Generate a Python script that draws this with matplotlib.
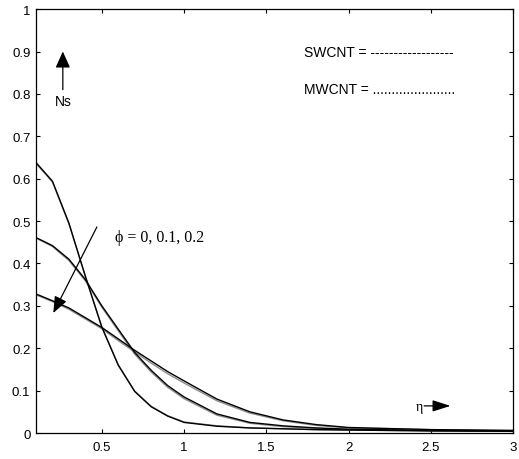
import matplotlib.pyplot as plt

# eta grid and Ns values
eta = [0.1, 0.2, 0.3, 0.4, 0.5, 0.6, 0.7, 0.8, 0.9, 1.0, 1.2, 1.4, 1.6, 1.8, 2.0, 2.5, 3.0]

sw_phi0 = [0.638, 0.594, 0.495, 0.370, 0.250, 0.160, 0.098, 0.062, 0.040, 0.025,
           0.016, 0.012, 0.010, 0.008, 0.007, 0.005, 0.004]
sw_phi1 = [0.461, 0.442, 0.410, 0.362, 0.300, 0.245, 0.190, 0.148, 0.112, 0.085,
           0.045, 0.025, 0.017, 0.012, 0.009, 0.006, 0.005]
sw_phi2 = [0.328, 0.312, 0.295, 0.272, 0.249, 0.222, 0.195, 0.170, 0.145, 0.123,
           0.080, 0.050, 0.031, 0.020, 0.013, 0.008, 0.006]

mw_phi0 = [0.636, 0.592, 0.494, 0.369, 0.250, 0.161, 0.099, 0.063, 0.041, 0.026,
           0.017, 0.012, 0.010, 0.008, 0.007, 0.005, 0.004]
mw_phi1 = [0.460, 0.440, 0.407, 0.359, 0.297, 0.241, 0.186, 0.144, 0.108, 0.081,
           0.042, 0.023, 0.015, 0.011, 0.008, 0.006, 0.005]
mw_phi2 = [0.326, 0.310, 0.292, 0.269, 0.246, 0.218, 0.191, 0.165, 0.140, 0.118,
           0.076, 0.047, 0.029, 0.018, 0.012, 0.008, 0.006]

x_ticks = [0.5, 1, 1.5, 2, 2.5, 3]
y_ticks = [0, 0.1, 0.2, 0.3, 0.4, 0.5, 0.6, 0.7, 0.8, 0.9, 1]

plt.rcParams["font.family"] = ["Liberation Sans", "DejaVu Sans"]
SERIF = ["Liberation Serif", "DejaVu Serif"]

fig = plt.figure(figsize=(5.19, 4.6), dpi=100)
ax = fig.add_axes([0.0694, 0.0565, 0.919, 0.9215])

for ys in (mw_phi0, mw_phi1, mw_phi2):
    ax.plot(eta, ys, color="#8c8c8c", lw=1.0)
for ys in (sw_phi0, sw_phi1, sw_phi2):
    ax.plot(eta, ys, color="black", lw=1.0)

ax.set_xlim(0.1, 3)
ax.set_ylim(0, 1)
ax.set_xticks(x_ticks)
ax.set_xticklabels(["0.5", "1", "1.5", "2", "2.5", "3"])
ax.set_yticks(y_ticks)
ax.set_yticklabels(["0", "0.1", "0.2", "0.3", "0.4", "0.5", "0.6", "0.7", "0.8", "0.9", "1"])
ax.tick_params(direction="in", length=3, width=0.8, top=True, right=True,
               labelsize=9.5)
ax.tick_params(axis="x", pad=6)
ax.tick_params(axis="y", pad=4)
for sp in ax.spines.values():
    sp.set_linewidth(0.9)

# phi arrow
ax.annotate("", xy=(0.205, 0.283), xytext=(0.47, 0.486),
            arrowprops=dict(arrowstyle="-|>,head_length=1.0,head_width=0.4",
                            color="black", lw=0.9, shrinkA=0, shrinkB=0))
ax.text(0.578, 0.462, "ϕ = 0, 0.1, 0.2", family=SERIF,
        fontsize=11.5, va="center", ha="left")

# Ns arrow
ax.annotate("", xy=(0.263, 0.9), xytext=(0.263, 0.81),
            arrowprops=dict(arrowstyle="-|>,head_length=1.0,head_width=0.45",
                            color="black", lw=0.9, shrinkA=0, shrinkB=0))
ax.text(0.263, 0.783, "Ns", fontsize=10, ha="center", va="center")

# eta arrow
ax.annotate("", xy=(2.62, 0.064), xytext=(2.46, 0.064),
            arrowprops=dict(arrowstyle="-|>,head_length=1.1,head_width=0.35",
                            color="black", lw=0.9, shrinkA=0, shrinkB=0))
ax.text(2.455, 0.062, "η", fontsize=10, ha="right", va="center", family=SERIF)

ax.text(1.73, 0.9, "SWCNT = ------------------", fontsize=10, ha="left", va="center")
ax.text(1.73, 0.811, "MWCNT = ......................", fontsize=10, ha="left", va="center")

fig.savefig("out.png", dpi=100)
